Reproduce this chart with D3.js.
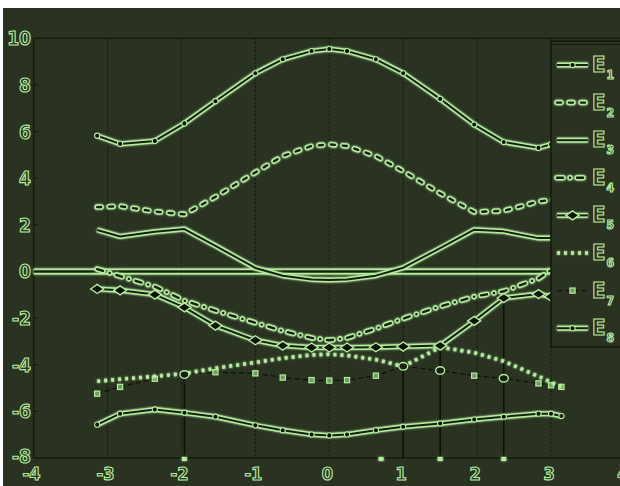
<!DOCTYPE html>
<html>
<head>
<meta charset="utf-8">
<script src="https://cdn.jsdelivr.net/npm/d3@7"></script>
<style>
  html, body { margin: 0; padding: 0; background: #ffffff; }
  svg { display: block; }
</style>
</head>
<body>
<script>
// Wave-vector samples along the path (x axis)
const kx = [-3.14, -2.83, -2.36, -1.96, -1.54, -1.0, -0.63, -0.24, 0, 0.24, 0.63, 1.0, 1.5, 1.96, 2.36, 2.83, 3.0, 3.14];

// Band energies at each sample
const E1 = [5.82, 5.47, 5.6, 6.35, 7.3, 8.5, 9.1, 9.45, 9.54, 9.45, 9.1, 8.5, 7.4, 6.3, 5.55, 5.3, 5.45, 5.6];
const E2 = [2.76, 2.8, 2.57, 2.45, 3.2, 4.25, 4.95, 5.38, 5.45, 5.38, 4.95, 4.3, 3.35, 2.55, 2.6, 3.0, 3.07, 3.1];
const E3 = [1.78, 1.5, 1.7, 1.82, 1.1, 0.15, -0.18, -0.34, -0.37, -0.34, -0.18, 0.16, 1.0, 1.79, 1.72, 1.43, 1.43, 1.45];
const E4 = [0.1, -0.2, -0.65, -1.25, -1.68, -2.2, -2.55, -2.85, -2.95, -2.85, -2.45, -2.02, -1.5, -1.08, -0.85, -0.3, 0.07, 0.25];
const E5 = [-0.75, -0.81, -0.99, -1.54, -2.32, -2.95, -3.18, -3.26, -3.26, -3.26, -3.25, -3.22, -3.18, -2.12, -1.14, -0.97, -1.08, -1.1];
const E6 = [-4.71, -4.62, -4.5, -4.38, -4.15, -3.9, -3.72, -3.58, -3.55, -3.6, -3.78, -4.07, -3.25, -3.48, -3.85, -4.5, -4.75, -4.95];
const E7 = [-5.24, -4.95, -4.6, -4.42, -4.32, -4.37, -4.55, -4.66, -4.68, -4.66, -4.47, -4.07, -4.25, -4.47, -4.58, -4.8, -4.88, -4.95];
const E8 = [-6.57, -6.1, -5.92, -6.06, -6.23, -6.6, -6.81, -6.99, -7.03, -6.99, -6.81, -6.66, -6.52, -6.35, -6.23, -6.1, -6.1, -6.2];

// Reference energy level
const fermiLevel = 0;
const fermiSpan = [-4, 3.14];

// Ring markers on E7 and drop lines to the axis
const e7Rings = [-1.96, 1.0, 1.5, 2.36];
const stemX = [-1.96, 1.0, 1.5, 2.36];
const stemTop = [-4.38, -4.07, -3.18, -1.14];
const baseMarks = [-1.96, 0.7, 1.5, 2.36];

// Axis ticks
const xTicks = [-4, -3, -2, -1, 0, 1, 2, 3, 4];
const yTicks = [-8, -6, -4, -2, 0, 2, 4, 6, 8, 10];

// Legend entries
const seriesNames = ["1", "2", "3", "4", "5", "6", "7", "8"];

const W = 620, H = 486;
const BG = "#2a3222";
const LIGHT = "#b4ee9c";
const INK = "#182012";
const GRID = "#11170c";

const svg = d3.select("body").append("svg").attr("width", W).attr("height", H);
svg.append("rect").attr("width", W).attr("height", H).attr("fill", "#ffffff");
svg.append("rect").attr("x", 3).attr("y", 8).attr("width", W - 3).attr("height", H - 8).attr("fill", BG);

const x = d3.scaleLinear().domain([-4, 4]).range([33.6, 625]);
const y = d3.scaleLinear().domain([-8, 10]).range([458, 38.3]);

// soft glow for the light strokes (user-space region so flat lines still render)
const defs = svg.append("defs");
const glow = defs.append("filter").attr("id", "glow").attr("filterUnits", "userSpaceOnUse")
  .attr("x", 0).attr("y", 0).attr("width", W).attr("height", H);
glow.append("feGaussianBlur").attr("in", "SourceGraphic").attr("stdDeviation", 1.1).attr("result", "b");
const mg = glow.append("feMerge");
mg.append("feMergeNode").attr("in", "b");
mg.append("feMergeNode").attr("in", "SourceGraphic");

// frame and grid
const frame = svg.append("g");
xTicks.filter(t => t > -4 && t < 4).forEach(t => {
  frame.append("line").attr("x1", x(t)).attr("x2", x(t)).attr("y1", y(10)).attr("y2", y(-8))
    .attr("stroke", GRID).attr("stroke-width", 1).attr("stroke-dasharray", "2,2");
});
frame.append("line").attr("x1", x(-4)).attr("x2", W).attr("y1", y(10)).attr("y2", y(10))
  .attr("stroke", "#161d10").attr("stroke-width", 1.6);
frame.append("line").attr("x1", x(-4)).attr("x2", x(-4)).attr("y1", y(10)).attr("y2", y(-8))
  .attr("stroke", "#161d10").attr("stroke-width", 1.6);
frame.append("line").attr("x1", x(-4)).attr("x2", W).attr("y1", y(-8)).attr("y2", y(-8))
  .attr("stroke", "#161d10").attr("stroke-width", 1.6);
yTicks.forEach(t => {
  frame.append("line").attr("x1", x(-4)).attr("x2", x(-4) + 5).attr("y1", y(t)).attr("y2", y(t))
    .attr("stroke", "#161d10").attr("stroke-width", 1.2);
});

// drop lines
const stems = svg.append("g");
stemX.forEach((sx, i) => {
  stems.append("line").attr("x1", x(sx)).attr("x2", x(sx)).attr("y1", y(stemTop[i])).attr("y2", y(-8))
    .attr("stroke", "#0c1008").attr("stroke-width", 1.6);
});
baseMarks.forEach(bx => {
  stems.append("rect").attr("x", x(bx) - 2.5).attr("y", y(-8) - 1).attr("width", 5).attr("height", 4)
    .attr("fill", LIGHT).attr("filter", "url(#glow)");
});

const line = d3.line().x(d => x(d[0])).y(d => y(d[1]));
const pts = vals => kx.map((k, i) => [k, vals[i]]);

function doubleLine(g, data, outerW, innerW, dash, cap) {
  g.append("path").attr("d", line(data)).attr("fill", "none")
    .attr("stroke", LIGHT).attr("stroke-width", outerW)
    .attr("stroke-linejoin", "round").attr("stroke-linecap", cap || "butt")
    .attr("stroke-dasharray", dash || null).attr("filter", "url(#glow)");
  g.append("path").attr("d", line(data)).attr("fill", "none")
    .attr("stroke", INK).attr("stroke-width", innerW)
    .attr("stroke-linejoin", "round").attr("stroke-linecap", cap || "butt")
    .attr("stroke-dasharray", dash || null);
}

function dotMarks(g, data) {
  g.selectAll(null).data(data).join("circle")
    .attr("cx", d => x(d[0])).attr("cy", d => y(d[1])).attr("r", 2.6)
    .attr("fill", "#0b0f07").attr("stroke", LIGHT).attr("stroke-width", 1.1);
}
function diamondMarks(g, data) {
  g.selectAll(null).data(data).join("path")
    .attr("d", "M-6.5,0L0,-4.5L6.5,0L0,4.5Z")
    .attr("transform", d => `translate(${x(d[0])},${y(d[1])})`)
    .attr("fill", "#0b0f07").attr("stroke", LIGHT).attr("stroke-width", 1.4);
}
function squareMarks(g, data) {
  g.selectAll(null).data(data).join("rect")
    .attr("x", d => x(d[0]) - 2.6).attr("y", d => y(d[1]) - 2.6)
    .attr("width", 5.2).attr("height", 5.2)
    .attr("fill", "#6f9a60").attr("stroke", LIGHT).attr("stroke-width", 1.2);
}

// Style drawers, shared by the plot and the legend
const styles = [
  (g, d, m) => { doubleLine(g, d, 5, 2); dotMarks(g, m); },                       // E1
  (g, d) => { doubleLine(g, d, 5.5, 2.4, "4,8", "round"); },                      // E2
  (g, d) => { doubleLine(g, d, 5, 2); },                                          // E3
  (g, d) => { doubleLine(g, d, 5.5, 2.4, "6,7,0.1,7", "round"); },                // E4
  (g, d, m) => { doubleLine(g, d, 5, 2); diamondMarks(g, m); },                   // E5
  (g, d) => {                                                                     // E6
    g.append("path").attr("d", line(d)).attr("fill", "none")
      .attr("stroke", LIGHT).attr("stroke-width", 3.6).attr("stroke-dasharray", "3,4")
      .attr("filter", "url(#glow)");
  },
  (g, d, m) => {                                                                  // E7
    g.append("path").attr("d", line(d)).attr("fill", "none")
      .attr("stroke", "#0e1309").attr("stroke-width", 1.3).attr("stroke-dasharray", "5,3");
    squareMarks(g, m);
  },
  (g, d, m) => { doubleLine(g, d, 5, 2); dotMarks(g, m); }                        // E8
];

const series = [E1, E2, E3, E4, E5, E6, E7, E8];

const plot = svg.append("g");

// reference level line
doubleLine(plot, fermiSpan.map(v => [v, fermiLevel]), 6, 2.6);

// draw bottom bands first so upper ones sit on top
for (let i = series.length - 1; i >= 0; i--) {
  const g = plot.append("g");
  const d = pts(series[i]);
  styles[i](g, d, d);
}

// ring markers on E7
e7Rings.forEach(r => {
  const i = kx.indexOf(r);
  plot.append("ellipse").attr("cx", x(r)).attr("cy", y(E7[i])).attr("rx", 4.5).attr("ry", 3.8)
    .attr("fill", INK).attr("stroke", LIGHT).attr("stroke-width", 1.4);
});

// outlined text helper
function outlined(g, txt, px, py, anchor, size) {
  return g.append("text").attr("x", px).attr("y", py).attr("text-anchor", anchor)
    .attr("font-family", "DejaVu Sans Condensed, DejaVu Sans, sans-serif").attr("font-weight", "bold")
    .attr("font-size", size).attr("fill", BG).attr("stroke", LIGHT).attr("stroke-width", 1.1)
    .text(txt);
}

// axis labels
const labels = svg.append("g");
yTicks.forEach(t => outlined(labels, String(t), 31, y(t) + (t === -8 ? 5 : 7), "end", 19));
xTicks.forEach(t => outlined(labels, String(t), x(t) - 2, 480, "middle", 18));

// legend
const lg = svg.append("g");
lg.append("rect").attr("x", 551).attr("y", 41).attr("width", 75).attr("height", 306)
  .attr("fill", BG).attr("stroke", "#141a0e").attr("stroke-width", 1.6);
lg.append("line").attr("x1", 551).attr("x2", 620).attr("y1", 44.5).attr("y2", 44.5)
  .attr("stroke", "#141a0e").attr("stroke-width", 1.2);
seriesNames.forEach((nm, i) => {
  const cy = 65 + i * 37.6;
  const g = lg.append("g");
  const yv = y.invert(cy);
  const sample = [[x.invert(557), yv], [x.invert(588), yv]];
  const mid = [[x.invert(572.5), yv]];
  styles[i](g, sample, mid);
  const t = outlined(g, "E", 592, cy + 7, "start", 22);
  t.append("tspan").attr("font-size", 12).attr("dy", 7).attr("dx", 1).text(nm);
});
</script>
</body>
</html>
